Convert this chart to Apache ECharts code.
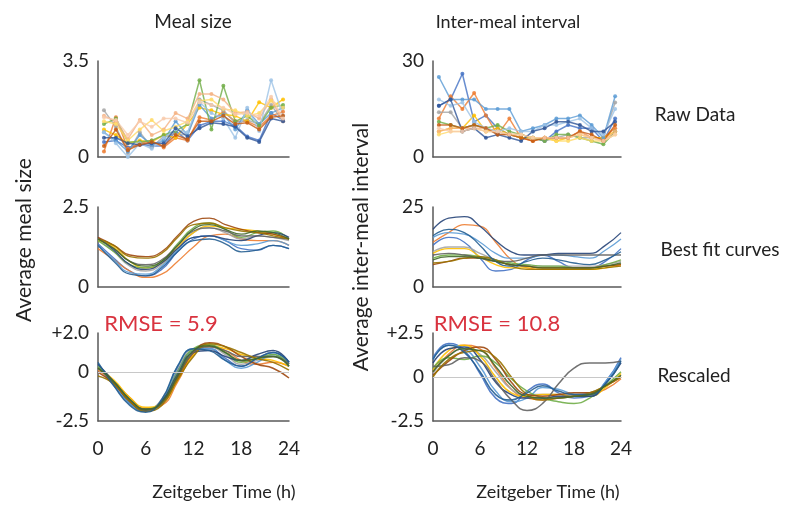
<!DOCTYPE html>
<html><head><meta charset="utf-8">
<script src="https://cdn.jsdelivr.net/npm/echarts@6/dist/echarts.min.js"></script>
<style>html,body{margin:0;padding:0;background:#fff}#c{width:801px;height:508px}</style>
</head><body><div id="c"></div>
<script>
// Time points
var rawHours = [0.75,2.25,3.75,5.25,6.75,8.25,9.75,11.25,12.75,14.25,15.75,17.25,18.75,20.25,21.75,23.25];
var fitHours = [0,2,4,6,8,10,12,14,16,18,20,22,24];
var xTicks = [0,6,12,18,24];

var colors = ['#4472C4','#ED7D31','#A5A5A5','#FFC000','#5B9BD5','#70AD47','#264478','#9E480E','#636363','#997300','#255E91','#43682B'];
var rawColors = ['#4472C4','#ED7D31','#A5A5A5','#FFC000','#5B9BD5','#70AD47','#F4B183','#FFD966','#9DC3E6','#2F5597','#C55A11','#F8CBAD'];

// Raw meal size
var rawMS1 = [0.55,0.6,0.35,0.45,0.4,0.4,0.95,0.6,1.15,1.3,1.3,1.15,0.75,0.6,1.6,1.35];
var rawMS2 = [0.2,1.45,0.3,0.5,0.6,0.35,0.7,0.6,1.45,1.35,1.65,1.3,1.3,1.1,1.5,1.65];
var rawMS3 = [1.7,1.1,0.15,0.9,0.35,0.75,0.85,0.8,2.1,1.9,1.7,1.25,1.35,1.2,1.9,1.3];
var rawMS4 = [1.0,0.8,0.5,0.6,0.55,0.8,0.7,1.2,1.8,1.7,1.55,1.5,1.3,2.0,1.8,2.1];
var rawMS5 = [0.9,0.6,0.2,0.8,0.45,0.6,1.3,0.8,1.9,1.4,1.55,1.0,1.7,1.2,1.6,1.8];
var rawMS6 = [1.2,1.4,0.55,0.55,0.6,0.8,0.95,1.2,2.8,1.0,2.6,1.3,1.5,1.15,1.8,1.9];
var rawMS7 = [1.5,1.3,0.65,1.35,0.8,1.0,1.6,1.4,2.3,2.3,2.1,1.6,1.65,1.4,2.1,1.3];
var rawMS8 = [1.3,1.2,0.6,1.0,1.35,0.95,1.1,1.3,2.05,2.1,1.75,1.7,1.5,1.6,2.05,1.8];
var rawMS9 = [0.9,0.5,0.0,0.5,0.3,0.7,1.0,0.9,2.0,1.6,1.4,0.7,1.8,0.95,2.8,1.5];
var rawMS10 = [0.7,0.7,0.5,0.45,0.5,0.5,1.05,0.75,1.05,1.25,1.2,1.1,0.7,0.55,1.4,1.3];
var rawMS11 = [0.4,1.0,0.25,0.45,0.55,0.4,0.8,0.65,1.3,1.3,1.5,1.2,1.25,1.0,1.45,1.5];
var rawMS12 = [1.45,1.35,0.8,1.3,1.1,1.4,1.4,1.25,2.0,1.9,1.8,1.55,1.6,1.5,2.2,1.4];

// Raw inter-meal interval
var rawIMI1 = [16,18,26,11,13,9,7,6,6,5,8,10,9,9,5,12];
var rawIMI2 = [12,19,15,20,13,7,12,6,5,6,6,6,8,6,6,9];
var rawIMI3 = [14,14,9,10,9,7,7,7,6,5,6,7,6,6,6,17];
var rawIMI4 = [8,9,9,13,8,9,7,6,6,6,5,6,7,6,6,8];
var rawIMI5 = [25,18,18,18,15,15,15,8,9,10,12,12,13,10,6,19];
var rawIMI6 = [11,10,9,10,9,10,8,7,6,5,7,7,6,5,4,8];
var rawIMI7 = [8,9,9,9,9,8,7,7,6,6,6,6,8,6,5,8];
var rawIMI8 = [7,8,8,9,8,8,7,7,6,6,5,5,6,5,5,7];
var rawIMI9 = [18,16,17,11,9,8,9,8,8,10,10,11,12,9,7,15];
var rawIMI10 = [16,18,8,9,6,7,6,5,8,9,11,11,10,8,8,11];
var rawIMI11 = [10,10,9,10,9,7,7,6,5,6,6,6,8,7,5,10];
var rawIMI12 = [9,8,8,9,8,8,7,7,6,6,6,6,7,6,5,7];

// Best fit meal size
var fitMS1 = [1.35,0.9,0.5,0.35,0.55,1.1,1.5,1.6,1.45,1.2,1.15,1.3,1.2];
var fitMS2 = [1.2,0.85,0.5,0.3,0.4,0.8,1.25,1.6,1.65,1.5,1.45,1.45,1.3];
var fitMS3 = [1.5,1.1,0.65,0.5,0.7,1.2,1.7,1.85,1.7,1.5,1.6,1.55,1.45];
var fitMS4 = [1.45,1.25,0.8,0.6,0.75,1.25,1.7,1.9,1.85,1.8,1.75,1.65,1.5];
var fitMS5 = [1.3,0.85,0.45,0.4,0.65,1.15,1.55,1.6,1.45,1.3,1.35,1.45,1.3];
var fitMS6 = [1.45,1.1,0.7,0.6,0.8,1.35,1.85,2.0,1.8,1.55,1.7,1.75,1.5];
var fitMS7 = [1.55,1.15,0.7,0.55,0.75,1.2,1.55,1.6,1.5,1.45,1.6,1.7,1.55];
var fitMS8 = [1.55,1.3,1.0,0.95,1.1,1.6,2.05,2.15,1.95,1.8,1.7,1.65,1.5];
var fitMS9 = [1.5,1.2,0.8,0.7,0.85,1.3,1.75,1.85,1.75,1.6,1.6,1.55,1.5];
var fitMS10 = [1.5,1.3,0.95,0.9,1.05,1.55,1.95,2.0,1.85,1.75,1.7,1.6,1.5];
var fitMS11 = [1.3,0.8,0.4,0.35,0.6,1.1,1.45,1.5,1.35,1.1,1.15,1.3,1.2];
var fitMS12 = [1.5,1.2,0.8,0.65,0.8,1.3,1.8,1.95,1.8,1.65,1.75,1.7,1.5];

// Best fit inter-meal interval
var fitIMI1 = [13,15.5,14,9,5,5.5,8.5,10,8,6,6,8,12];
var fitIMI2 = [14,17,19.5,19,14,8.5,6,5.5,5.5,5.5,6,6.5,7];
var fitIMI3 = [11,12.5,12.5,10.5,8.5,7,6.5,6.5,6.5,6.5,6.5,7,8];
var fitIMI4 = [10.5,12,12,9.5,7,6,6,6,6,5.5,5.5,6,7];
var fitIMI5 = [15.5,17,16.5,14,10.5,9,9,10,10,9.5,9,11.5,15];
var fitIMI6 = [9,10,10,9.5,8.5,7.5,7,6.5,6.5,6,6,7,8.5];
var fitIMI7 = [18,21.5,22,19,14.5,11,10,10,10.5,10.5,10.5,13,17];
var fitIMI8 = [7,8,9,9,8,7,6.5,6,6,6,6,6.5,7];
var fitIMI9 = [10,10.5,10,9,8,8,9,10,10,10,10,10,10];
var fitIMI10 = [7.5,8,9,9.5,8.5,6.5,5.5,5.5,5.5,5.5,5.5,6,6.5];
var fitIMI11 = [16,18,17,13,8,6.5,8,9,8.5,7.5,7,8.5,11];
var fitIMI12 = [8.5,9.5,9.5,9,8,7,6.5,6,6,6,6,6.5,7.5];

// Rescaled meal size
var resMS1 = [0.3,-0.7,-1.6,-2.0,-1.5,0.1,1.1,1.2,0.7,0.3,0.7,1.0,0.5];
var resMS2 = [0.1,-0.5,-1.3,-1.85,-1.7,-0.5,0.9,1.3,1.1,0.6,0.4,0.5,0.3];
var resMS3 = [0.3,-0.6,-1.5,-1.9,-1.4,0.2,1.2,1.3,0.9,0.4,0.6,0.8,0.4];
var resMS4 = [0.2,-0.4,-1.3,-1.8,-1.6,-0.4,0.9,1.35,1.2,0.9,0.7,0.6,0.3];
var resMS5 = [0.4,-0.6,-1.6,-2.0,-1.5,0.3,1.2,1.2,0.6,0.2,0.5,0.9,0.3];
var resMS6 = [0.3,-0.5,-1.4,-1.9,-1.5,0.0,1.2,1.4,1.0,0.5,0.7,0.9,0.4];
var resMS7 = [0.4,-0.5,-1.5,-1.95,-1.5,-0.1,1.0,1.1,0.8,0.6,0.9,1.1,0.5];
var resMS8 = [0.0,-0.6,-1.5,-1.9,-1.6,-0.3,1.0,1.5,1.3,0.8,0.4,0.2,-0.3];
var resMS9 = [0.2,-0.5,-1.4,-1.9,-1.6,-0.2,1.0,1.3,1.1,0.8,0.8,0.8,0.4];
var resMS10 = [-0.2,-0.6,-1.5,-2.0,-1.7,-0.4,0.8,1.45,1.3,1.0,0.7,0.5,0.1];
var resMS11 = [0.5,-0.7,-1.7,-2.05,-1.4,0.3,1.2,1.1,0.6,0.3,0.7,1.0,0.5];
var resMS12 = [0.2,-0.5,-1.4,-1.9,-1.55,-0.2,1.1,1.35,1.0,0.6,0.7,0.8,0.3];

// Rescaled inter-meal interval
var resIMI1 = [1.1,1.9,1.5,0.2,-1.2,-1.5,-0.8,-0.4,-0.9,-1.2,-1.1,-0.3,1.1];
var resIMI2 = [0.3,1.3,1.8,1.6,0.5,-0.7,-1.2,-1.3,-1.2,-1.1,-1.0,-0.7,-0.1];
var resIMI3 = [0.2,1.2,1.6,1.3,0.3,-0.7,-1.0,-1.0,-1.0,-1.0,-0.9,-0.5,0.1];
var resIMI4 = [0.4,1.5,1.8,1.2,0.0,-0.9,-1.1,-1.0,-1.0,-1.1,-1.1,-0.6,0.2];
var resIMI5 = [1.0,1.8,1.6,0.6,-0.8,-1.4,-1.2,-0.6,-0.7,-1.0,-1.1,-0.3,1.0];
var resIMI6 = [0.5,1.1,1.0,1.2,0.8,-0.1,-0.8,-1.2,-1.4,-1.5,-1.2,-0.5,0.3];
var resIMI7 = [0.8,1.6,1.7,1.0,-0.3,-1.0,-1.2,-1.2,-1.1,-1.1,-1.1,-0.4,0.8];
var resIMI8 = [0.1,0.9,1.5,1.7,1.0,-0.3,-1.0,-1.1,-1.0,-0.9,-0.9,-0.5,0.0];
var resIMI9 = [0.6,0.7,1.1,0.9,-0.2,-1.3,-1.9,-1.5,-0.4,0.5,0.8,0.8,0.9];
var resIMI10 = [0.0,1.0,1.4,1.5,1.1,0.0,-1.0,-1.3,-1.2,-1.1,-0.9,-0.5,0.0];
var resIMI11 = [1.0,1.8,1.4,0.3,-1.0,-1.3,-0.9,-0.5,-0.8,-1.0,-1.0,-0.4,0.9];
var resIMI12 = [0.3,1.2,1.6,1.5,0.6,-0.5,-1.1,-1.2,-1.2,-1.1,-1.0,-0.5,0.1];

var rawMS = [rawMS1,rawMS2,rawMS3,rawMS4,rawMS5,rawMS6,rawMS7,rawMS8,rawMS9,rawMS10,rawMS11,rawMS12];
var rawIMI = [rawIMI1,rawIMI2,rawIMI3,rawIMI4,rawIMI5,rawIMI6,rawIMI7,rawIMI8,rawIMI9,rawIMI10,rawIMI11,rawIMI12];
var fitMS = [fitMS1,fitMS2,fitMS3,fitMS4,fitMS5,fitMS6,fitMS7,fitMS8,fitMS9,fitMS10,fitMS11,fitMS12];
var fitIMI = [fitIMI1,fitIMI2,fitIMI3,fitIMI4,fitIMI5,fitIMI6,fitIMI7,fitIMI8,fitIMI9,fitIMI10,fitIMI11,fitIMI12];
var resMS = [resMS1,resMS2,resMS3,resMS4,resMS5,resMS6,resMS7,resMS8,resMS9,resMS10,resMS11,resMS12];
var resIMI = [resIMI1,resIMI2,resIMI3,resIMI4,resIMI5,resIMI6,resIMI7,resIMI8,resIMI9,resIMI10,resIMI11,resIMI12];

var FONT = 'Lato, "Open Sans", sans-serif';
var AX = '#595959';

var chart = echarts.init(document.getElementById('c'), null, {renderer:'canvas'});

var gridPos = [
  {left:98, top:61, width:191, height:96},
  {left:433, top:61, width:188, height:96},
  {left:98, top:207, width:191, height:80},
  {left:433, top:207, width:188, height:80},
  {left:98, top:333, width:191, height:88},
  {left:433, top:333, width:188, height:88}
];
var yCfg = [
  {min:0,max:3.5,interval:3.5,fmt:function(v){return v===0?'0':'3.5';}},
  {min:0,max:30,interval:30,fmt:function(v){return String(v);}},
  {min:0,max:2.5,interval:2.5,fmt:function(v){return v===0?'0':'2.5';}},
  {min:0,max:25,interval:25,fmt:function(v){return String(v);}},
  {min:-2.5,max:2,interval:0.5,fmt:function(v){v=Math.round(v*10)/10; return v===2?'+2.0':(v===0?'0':(v===-2.5?'-2.5':''));}},
  {min:-2.5,max:2.5,interval:2.5,fmt:function(v){return v>0?'+2.5':(v===0?'0':'-2.5');}}
];

var grids=[], xAxes=[], yAxes=[], series=[];
for (var g=0; g<6; g++){
  grids.push(Object.assign({containLabel:false}, gridPos[g]));
  var bottom = g>=4;
  xAxes.push({type:'value', gridIndex:g, min:xTicks[0], max:xTicks[xTicks.length-1], interval:6,
    axisLine:{show:true,onZero:false,lineStyle:{color:AX,width:1.5}}, axisTick:{show:false}, splitLine:{show:false},
    axisLabel:{show:bottom, color:'#222', fontSize:19, fontFamily:FONT, margin:18}});
  yAxes.push({type:'value', gridIndex:g, min:yCfg[g].min, max:yCfg[g].max, interval:yCfg[g].interval,
    axisLine:{show:true,lineStyle:{color:AX,width:1.5}}, axisTick:{show:false}, splitLine:{show:false},
    axisLabel:{show:true, color:'#222', fontSize:19, fontFamily:FONT, margin:9, formatter:yCfg[g].fmt}});
}

function pairs(xs, ys){ return xs.map(function(x,i){return [x, ys[i]];}); }

rawMS.forEach(function(arr,i){
  series.push({type:'line', xAxisIndex:0, yAxisIndex:0, data:pairs(rawHours,arr), symbol:'circle', symbolSize:4,
    lineStyle:{width:1.5,color:rawColors[i],opacity:0.8}, itemStyle:{color:rawColors[i],opacity:0.85}, silent:true});
});
rawIMI.forEach(function(arr,i){
  series.push({type:'line', xAxisIndex:1, yAxisIndex:1, data:pairs(rawHours,arr), symbol:'circle', symbolSize:4,
    lineStyle:{width:1.5,color:rawColors[i],opacity:0.8}, itemStyle:{color:rawColors[i],opacity:0.85}, silent:true});
});
fitMS.forEach(function(arr,i){
  series.push({type:'line', xAxisIndex:2, yAxisIndex:2, data:pairs(fitHours,arr), symbol:'none', smooth:0.5,
    lineStyle:{width:1.3,color:colors[i],opacity:0.9}, silent:true});
});
fitIMI.forEach(function(arr,i){
  series.push({type:'line', xAxisIndex:3, yAxisIndex:3, data:pairs(fitHours,arr), symbol:'none', smooth:0.5,
    lineStyle:{width:1.3,color:colors[i],opacity:0.9}, silent:true});
});
var zeroLine = {silent:true, symbol:['none','none'], label:{show:false}, lineStyle:{color:'#c8c8c8',type:'solid',width:1.2}, data:[{yAxis:0}]};
resMS.forEach(function(arr,i){
  var s = {type:'line', xAxisIndex:4, yAxisIndex:4, data:pairs(fitHours,arr), symbol:'none', smooth:0.5,
    lineStyle:{width:1.5,color:colors[i],opacity:0.9}, silent:true, z:3};
  if(i===0){ s.markLine = zeroLine; }
  series.push(s);
});
resIMI.forEach(function(arr,i){
  var s = {type:'line', xAxisIndex:5, yAxisIndex:5, data:pairs(fitHours,arr), symbol:'none', smooth:0.5,
    lineStyle:{width:1.5,color:colors[i],opacity:0.9}, silent:true, z:3};
  if(i===0){ s.markLine = zeroLine; }
  series.push(s);
});

function txt(x,y,t,opt){
  return Object.assign({type:'text', x:x, y:y, silent:true,
    style:Object.assign({text:t, fill:'#222', font:'18px '+FONT, textAlign:'center', textVerticalAlign:'middle'}, opt||{})});
}
var graphics = [
  txt(193,22,'Meal size',{font:'19px '+FONT}),
  txt(508,22,'Inter-meal interval'),
  txt(695,115,'Raw Data',{font:'19px '+FONT}),
  txt(720,250,'Best fit curves',{font:'19px '+FONT}),
  txt(694,376,'Rescaled',{font:'19px '+FONT}),
  txt(161,324,'RMSE = 5.9',{fill:'#d9333f', font:'22px '+FONT}),
  txt(497,324,'RMSE = 10.8',{fill:'#d9333f', font:'22px '+FONT}),
  txt(224,492,'Zeitgeber Time (h)'),
  txt(548,492,'Zeitgeber Time (h)'),
  {type:'text', x:24, y:240, rotation:Math.PI/2, silent:true, style:{text:'Average meal size', fill:'#222', font:'21px '+FONT, textAlign:'center', textVerticalAlign:'middle'}},
  {type:'text', x:361, y:247, rotation:Math.PI/2, silent:true, style:{text:'Average inter-meal interval', fill:'#222', font:'21px '+FONT, textAlign:'center', textVerticalAlign:'middle'}}
];

chart.setOption({
  animation:false,
  backgroundColor:'#fff',
  grid:grids, xAxis:xAxes, yAxis:yAxes, series:series, graphic:graphics
});
</script>
</body></html>
